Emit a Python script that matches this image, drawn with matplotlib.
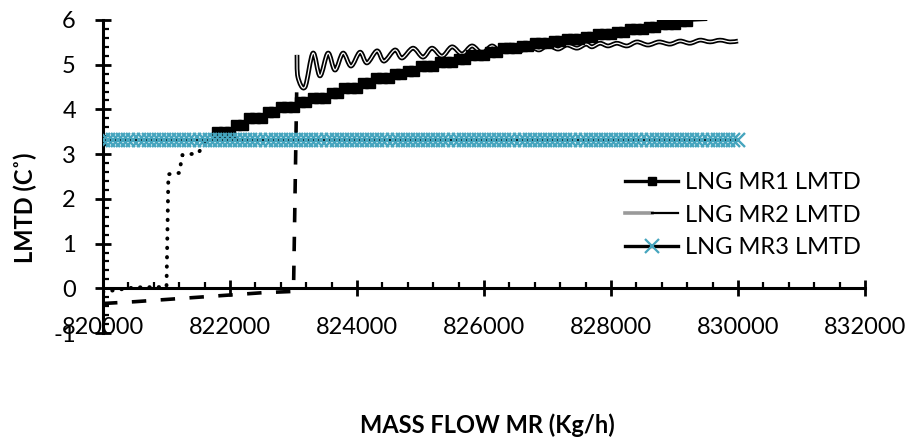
import numpy as np
import matplotlib
matplotlib.use("Agg")
import matplotlib.pyplot as plt
from matplotlib.path import Path
from matplotlib.patches import PathPatch
from matplotlib.lines import Line2D
from matplotlib.legend_handler import HandlerTuple
from matplotlib.ticker import MultipleLocator

plt.rcParams['font.family'] = ['Lato', 'DejaVu Sans']

# ---- data -------------------------------------------------------------
# LNG MR1 LMTD (marked points every 100 kg/h, then a short unmarked tail)
mr1_flow = list(range(821800, 829201, 100)) + [829500]
mr1_lmtd = [3.49, 3.49, 3.49, 3.65, 3.65, 3.81, 3.81, 3.81, 3.94, 3.94,
            4.05, 4.05, 4.05, 4.16, 4.16, 4.25, 4.25, 4.25, 4.37, 4.37,
            4.48, 4.48, 4.48, 4.59, 4.59, 4.70, 4.70, 4.70, 4.79, 4.79,
            4.86, 4.86, 4.97, 4.97, 4.97, 5.06, 5.06, 5.06, 5.13, 5.13,
            5.22, 5.22, 5.22, 5.28, 5.28, 5.37, 5.37, 5.37, 5.42, 5.42,
            5.48, 5.48, 5.48, 5.53, 5.53, 5.57, 5.57, 5.57, 5.62, 5.62,
            5.69, 5.69, 5.69, 5.73, 5.73, 5.80, 5.80, 5.80, 5.84, 5.84,
            5.91, 5.91, 5.91, 5.98, 5.98, 6.00]
mr1_marked = 75

# LNG MR2 LMTD (oscillating response after the step at ~823050 kg/h)
mr2_flow = [823055, 823070, 823181, 823307, 823417, 823543, 823654, 823780,
            823906, 824047, 824157, 824315, 824425, 824598, 824709, 824882,
            825039, 825181, 825339, 825496, 825654, 825811, 825969, 826126,
            826268, 826409, 826567, 826709, 826866, 827008, 827165, 827307,
            827465, 827606, 827701, 827827, 827953, 828094, 828252, 828409,
            828583, 828756, 828929, 829087, 829244, 829402, 829559, 829717,
            829874, 830000]
mr2_lmtd = [5.22, 4.72, 4.50, 5.26, 4.75, 5.26, 4.88, 5.26,
            4.97, 5.28, 5.04, 5.31, 5.08, 5.33, 5.15, 5.37,
            5.17, 5.37, 5.19, 5.40, 5.24, 5.42, 5.26, 5.42,
            5.28, 5.44, 5.31, 5.42, 5.33, 5.44, 5.35, 5.44,
            5.37, 5.46, 5.40, 5.48, 5.42, 5.48, 5.42, 5.51,
            5.44, 5.51, 5.46, 5.53, 5.48, 5.55, 5.51, 5.55,
            5.51, 5.53]

# LNG MR3 LMTD (flat over the whole range)
mr3_flow = list(range(820000, 830001, 80))
mr3_level = 3.31
mr3_lmtd = [mr3_level] * len(mr3_flow)

# start-up trace (dotted)
dotted_flow = [820000, 820300, 820500, 821000, 821030, 821200, 821250,
               821500, 821600, 821700]
dotted_lmtd = [-0.08, -0.02, 0.02, 0.03, 2.55, 2.58, 2.98, 3.02, 3.25, 3.31]

# start-up trace (dashed)
dashed_flow = [820000, 820500, 821000, 821500, 822000, 822500, 823000,
               823050]
dashed_lmtd = [-0.34, -0.30, -0.25, -0.20, -0.15, -0.10, -0.07, 4.40]

x_ticks = [820000, 822000, 824000, 826000, 828000, 830000, 832000]
y_ticks = [-1, 0, 1, 2, 3, 4, 5, 6]

TEAL = '#46A5BE'


def smooth_path(xs, ys):
    """Catmull-Rom style smoothed line as cubic Bezier path."""
    pts = np.column_stack([xs, ys]).astype(float)
    n = len(pts)
    verts = [pts[0]]
    codes = [Path.MOVETO]
    for i in range(n - 1):
        p0 = pts[i - 1] if i > 0 else pts[i]
        p1 = pts[i]
        p2 = pts[i + 1]
        p3 = pts[i + 2] if i + 2 < n else pts[i + 1]
        c1 = p1 + (p2 - p0) / 6.0
        c2 = p2 - (p3 - p1) / 6.0
        verts += [c1, c2, p2]
        codes += [Path.CURVE4] * 3
    return Path(verts, codes)


fig = plt.figure(figsize=(9.07, 4.37), dpi=100)
ax = fig.add_axes([103 / 907, 1 - 333 / 437, (865 - 103) / 907, (333 - 20) / 437])

# dashed and dotted start-up traces
ax.plot(dashed_flow, dashed_lmtd, color='black', lw=2.6,
        dashes=(4.0, 4.0), dash_capstyle='butt', zorder=2)
ax.plot(dotted_flow, dotted_lmtd, color='black', lw=2.8,
        dashes=(0.1, 2.3), dash_capstyle='round', zorder=2)

# MR2 as a smoothed double line
p = smooth_path(mr2_flow, mr2_lmtd)
ax.add_patch(PathPatch(p, fill=False, ec='black', lw=3.4, zorder=3,
                       capstyle='butt', joinstyle='round'))
ax.add_patch(PathPatch(p, fill=False, ec='white', lw=0.9, zorder=3.1,
                       capstyle='butt', joinstyle='round'))

# MR1 squares
ax.plot(mr1_flow, mr1_lmtd, color='black', lw=1.5, marker='s', ms=6.8,
        markevery=slice(0, mr1_marked), zorder=4)

# MR3 crosses over a black line
ax.plot(mr3_flow, mr3_lmtd, color='black', lw=1.4, zorder=5)
ax.plot(mr3_flow, mr3_lmtd, ls='none', marker='x', ms=9.5, mew=1.7,
        color=TEAL, zorder=5.1)

ax.set_xlim(820000, 832000)
ax.set_ylim(-1, 6)
ax.set_xticks(x_ticks)
ax.set_xticklabels([str(v) for v in x_ticks])
ax.set_yticks(y_ticks)
ax.set_yticklabels([str(v) for v in y_ticks])
ax.xaxis.set_minor_locator(MultipleLocator(400))
ax.yaxis.set_minor_locator(MultipleLocator(0.2))

for s in ('top', 'right'):
    ax.spines[s].set_visible(False)
ax.spines['bottom'].set_position(('data', 0))
for s in ('left', 'bottom'):
    ax.spines[s].set_linewidth(2.2)
    ax.spines[s].set_zorder(1)

ax.tick_params(axis='both', which='major', direction='inout', length=11,
               width=2.0, labelsize=17, colors='black')
ax.tick_params(axis='both', which='minor', direction='in', length=4.5,
               width=1.6)
ax.tick_params(axis='x', which='major', pad=15)
ax.tick_params(axis='y', which='major', pad=14)
ax.patch.set_visible(False)

fig.text(487 / 907, 1 - 425 / 437, 'MASS FLOW MR (Kg/h)', ha='center',
         va='center', fontsize=17, fontweight='bold')
fig.text(25 / 907, 1 - 208 / 437, 'LMTD (C\u02da)', ha='center', va='center',
         rotation=90, fontsize=17, fontweight='bold')

h1 = Line2D([], [], color='black', lw=2.4, marker='s', ms=5.5)
h2 = (Line2D([], [], color='#9a9a9a', lw=2.6),
      Line2D([], [], color='black', lw=1.6))
h3 = Line2D([], [], color='black', lw=2.4, marker='x', ms=10, mew=1.6,
            mec=TEAL)
leg = fig.legend([h1, h2, h3], ['LNG MR1 LMTD', 'LNG MR2 LMTD', 'LNG MR3 LMTD'],
                 handler_map={tuple: HandlerTuple(ndivide=None)},
                 loc='center left', bbox_to_anchor=(625 / 907, 1 - 215 / 437),
                 frameon=False, fontsize=17, handlelength=2.25,
                 handletextpad=0.3, labelspacing=0.48, borderpad=0,
                 borderaxespad=0, numpoints=1)

fig.savefig('out.png', dpi=100, facecolor='white')
